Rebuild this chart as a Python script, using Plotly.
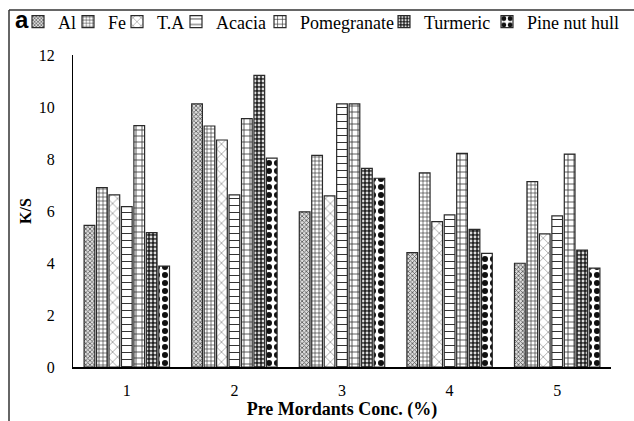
import plotly.graph_objects as go

# Pre-mordant concentration groups (%)
categories = ["1", "2", "3", "4", "5"]

series_names = ["Al", "Fe", "T.A", "Acacia", "Pomegranate", "Turmeric", "Pine nut hull"]

# K/S values for each mordant at each concentration
al = [5.45, 10.12, 5.97, 4.40, 3.99]
fe = [6.90, 9.27, 8.14, 7.47, 7.13]
ta = [6.62, 8.73, 6.58, 5.59, 5.12]
acacia = [6.17, 6.62, 10.12, 5.85, 5.81]
pomegranate = [9.28, 9.55, 10.12, 8.22, 8.19]
turmeric = [5.17, 11.22, 7.64, 5.29, 4.50]
pine_nut_hull = [3.88, 8.03, 7.26, 4.37, 3.80]

y_ticks = [0, 2, 4, 6, 8, 10, 12]

series_values = [al, fe, ta, acacia, pomegranate, turmeric, pine_nut_hull]

SERIF = "Liberation Serif, Times New Roman, serif"

# Black-and-white fill patterns, one per mordant
patterns = [
    dict(shape="x", size=3, solidity=0.45, fgcolor="#555555", bgcolor="#dddddd"),
    dict(shape="+", size=4, solidity=0.3, fgcolor="#333333", bgcolor="white"),
    dict(shape="x", size=7, solidity=0.12, fgcolor="#444444", bgcolor="white"),
    dict(shape="-", size=7, solidity=0.15, fgcolor="#333333", bgcolor="white"),
    dict(shape="+", size=6, solidity=0.25, fgcolor="#333333", bgcolor="white"),
    dict(shape=".", size=4, solidity=0.4, fgcolor="#dddddd", bgcolor="#222222"),
    dict(shape=".", size=8, solidity=0.45, fgcolor="#111111", bgcolor="white"),
]

W, H = 634, 421
ML, MR, MT, MB = 73, 23, 55, 54
PW, PH = W - ML - MR, H - MT - MB


def px_x(px):
    return (px - ML) / PW


def px_y(py):
    return (H - MB - py) / PH


# each legend entry gets its own legend box so the row can be spaced freely
legend_ids = ["legend"] + [f"legend{i}" for i in range(2, 8)]
legend_text_px = [58, 108, 157, 216, 300, 424, 527]

fig = go.Figure()
for name, vals, pat, lid in zip(series_names, series_values, patterns, legend_ids):
    fig.add_trace(go.Bar(
        name=name,
        x=categories,
        y=vals,
        legend=lid,
        marker=dict(
            color="white",
            line=dict(color="#2a2a2a", width=1.2),
            pattern=dict(fillmode="replace", **pat),
        ),
    ))

legend_font = dict(family=SERIF, size=18, color="black")
legend_layouts = {}
for lid, tx in zip(legend_ids, legend_text_px):
    legend_layouts[lid] = dict(
        x=px_x(tx - 40), y=px_y(22), xanchor="left", yanchor="middle",
        orientation="h", bgcolor="rgba(0,0,0,0)", borderwidth=0,
        font=legend_font, itemwidth=30,
    )

fig.update_layout(
    width=W, height=H,
    margin=dict(l=ML, r=MR, t=MT, b=MB, autoexpand=False),
    paper_bgcolor="white", plot_bgcolor="white",
    barmode="group", bargap=0.19, bargroupgap=0.14,
    font=dict(family=SERIF, color="black"),
    showlegend=True,
    xaxis=dict(
        automargin=False,
        showline=True, linecolor="black", linewidth=2, ticks="",
        showgrid=False, tickfont=dict(family=SERIF, size=16, color="black"),
        ticklabelstandoff=8,
        title=dict(text="<b>Pre Mordants Conc. (%)</b>",
                   font=dict(family=SERIF, size=18, color="black"),
                   standoff=2),
    ),
    yaxis=dict(
        automargin=False,
        range=[0, 12], tickvals=y_ticks, showline=True, linecolor="black",
        linewidth=1, ticks="", showgrid=False, zeroline=False,
        tickfont=dict(family=SERIF, size=16, color="black"),
        ticklabelstandoff=14,
        title=dict(text="<b>K/S</b>",
                   font=dict(family=SERIF, size=16, color="black"),
                   standoff=3),
    ),
    **legend_layouts,
)

# panel letter
fig.add_annotation(
    text="<b>a</b>", xref="paper", yref="paper", x=px_x(13), y=px_y(20),
    xanchor="left", yanchor="middle", showarrow=False,
    font=dict(family="Liberation Sans", size=24, color="black"),
)

# panel frame (left and top edges)
fig.add_shape(type="line", xref="paper", yref="paper",
              x0=px_x(9), x1=px_x(9), y0=px_y(10), y1=px_y(H + 2),
              line=dict(color="#333333", width=1.5))
fig.add_shape(type="line", xref="paper", yref="paper",
              x0=px_x(9), x1=px_x(W + 2), y0=px_y(10), y1=px_y(10),
              line=dict(color="#333333", width=1.5))

fig.write_html("out.html")
